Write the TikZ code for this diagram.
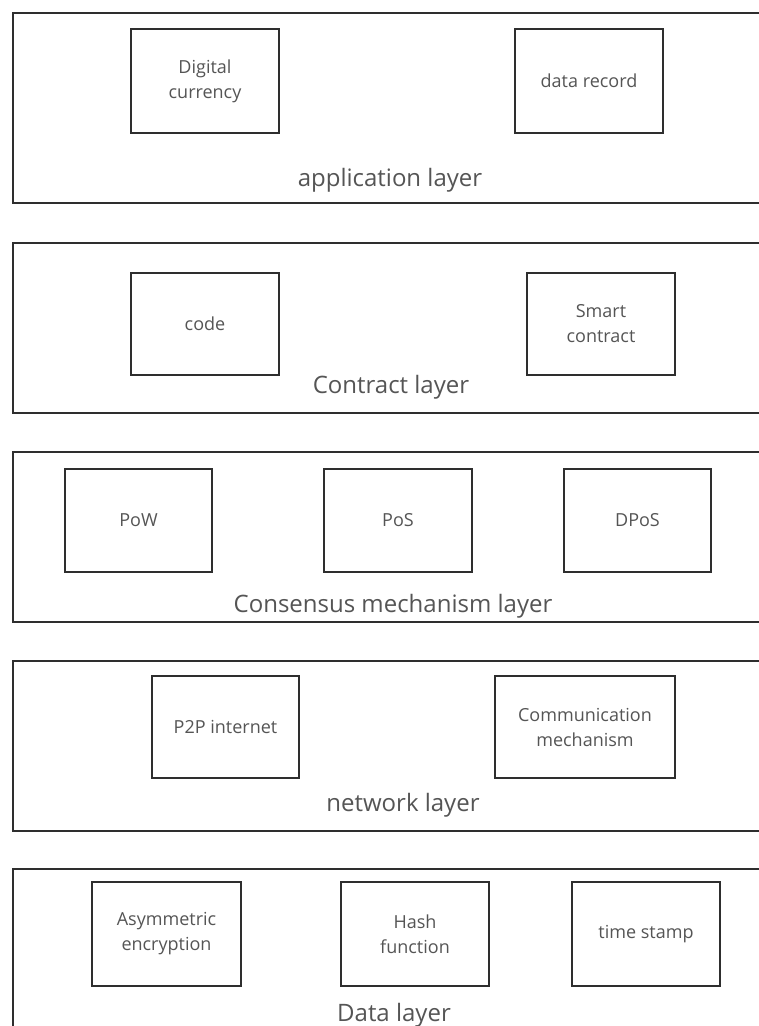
\documentclass[tikz,border=0pt]{standalone}
\usepackage{fontspec}
\setmainfont{Open Sans}
\definecolor{linec}{HTML}{2E2E2E}
\definecolor{textc}{HTML}{555555}
\begin{document}
\begin{tikzpicture}[x=1pt,y=-1pt,
  layerbox/.style={draw=linec, line width=2.2pt, anchor=north west, minimum width=800pt, minimum height=190pt, inner sep=0pt},
  itembox/.style={draw=linec, line width=2.2pt, minimum width=148pt, minimum height=104pt, inner sep=0pt, align=center, text=textc, font=\fontsize{18}{25}\selectfont},
  layertext/.style={anchor=base, text=textc, inner sep=0pt, font=\fontsize{24}{28}\selectfont}]
\useasboundingbox (0,0) rectangle (759,1026);
\clip (0,0) rectangle (759,1026);
\fill[white] (0,0) rectangle (759,1026);
% application layer
\node[layerbox] (L1) at (12,12) {};
\node[itembox] (dc) at (205,81) {Digital\\currency};
\node[itembox] (dr) at (589,81) {data record};
\node[layertext] (l1t) at (390,186) {application layer};
% contract layer
\node[layerbox, minimum height=170pt] (L2) at (12,242) {};
\node[itembox, minimum height=102pt] (code) at (205,324) {code};
\node[itembox, minimum height=102pt] (sc) at (601,324) {Smart\\contract};
\node[layertext] (l2t) at (391,393) {Contract layer};
% consensus layer
\node[layerbox, minimum height=170pt] (L3) at (12,451) {};
\node[itembox, minimum width=147pt, minimum height=103pt] (pow) at (138.5,520.5) {PoW};
\node[itembox, minimum height=103pt] (pos) at (398,520.5) {PoS};
\node[itembox, minimum width=147pt, minimum height=103pt] (dpos) at (637.5,520.5) {DPoS};
\node[layertext] (l3t) at (393,612) {Consensus mechanism layer};
% network layer
\node[layerbox, minimum height=170pt] (L4) at (12,660) {};
\node[itembox, minimum width=147pt, minimum height=102pt] (p2p) at (225.5,727) {P2P internet};
\node[itembox, minimum width=180pt, minimum height=102pt] (cm) at (585,727) {Communication\\mechanism};
\node[layertext] (l4t) at (403,811) {network layer};
% data layer
\node[layerbox] (L5) at (12,868) {};
\node[itembox, minimum width=149pt] (ae) at (166.5,934) {Asymmetric\\encryption};
\node[itembox] (hf) at (415,934) {Hash\\function};
\node[itembox] (ts) at (646,934) {time stamp};
\node[layertext] (l5t) at (394,1021) {Data layer};
\end{tikzpicture}
\end{document}
